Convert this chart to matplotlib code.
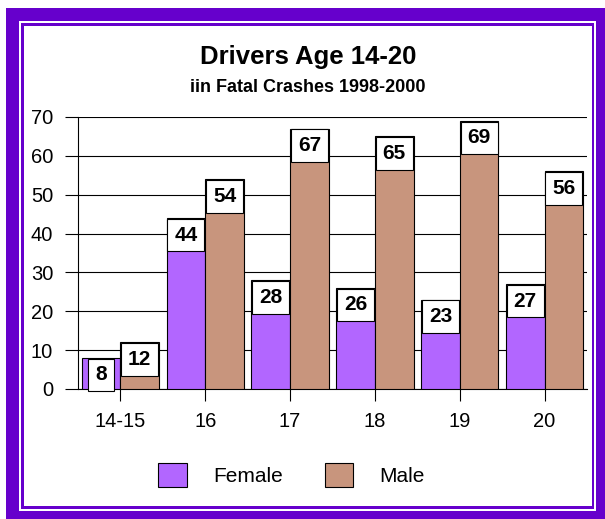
import numpy as np
import matplotlib
matplotlib.use("Agg")
import matplotlib.pyplot as plt
from matplotlib.patches import Rectangle

ages = ["14-15", "16", "17", "18", "19", "20"]
female = [8, 44, 28, 26, 23, 27]
male = [12, 54, 67, 65, 69, 56]

W, H = 605, 519
plt.rcParams['font.family'] = ['Liberation Sans', 'DejaVu Sans']

fig = plt.figure(figsize=(W / 100, H / 100), dpi=100)


def px_rect(x0, y0, x1, y1, color):
    # rectangle given in image pixels (y down)
    r = Rectangle((x0 / W, 1 - y1 / H), (x1 - x0) / W, (y1 - y0) / H,
                  transform=fig.transFigure, facecolor=color,
                  edgecolor='none', zorder=0)
    fig.add_artist(r)


purple = "#6600CC"
px_rect(6, 8, 605, 519, purple)
px_rect(19, 21, 596, 511, "white")
px_rect(21, 23, 594, 509, purple)
px_rect(24, 26, 592, 506, "white")

ax = fig.add_axes([78 / W, 1 - 389 / H, (587 - 78) / W, (389 - 117) / H])
ax.patch.set_alpha(0)

x = np.arange(len(ages))
bw = 0.455
b1 = ax.bar(x - bw / 2, female, bw, color="#B266FF", edgecolor="black",
            linewidth=0.8, label="Female", zorder=3)
b2 = ax.bar(x + bw / 2, male, bw, color="#C8957D", edgecolor="black",
            linewidth=0.8, label="Male", zorder=3)

for bars, vals in ((b1, female), (b2, male)):
    for b, v in zip(bars, vals):
        ax.annotate(str(v), (b.get_x() + b.get_width() / 2, v),
                    xytext=(0, -17), textcoords="offset pixels",
                    ha="center", va="center", fontsize=15, fontweight="bold",
                    zorder=5, annotation_clip=False,
                    bbox=dict(boxstyle="square,pad=0.33", facecolor="white",
                              edgecolor="black", linewidth=0.8))

ax.set_xlim(-0.5, len(ages) - 0.5)
ax.set_ylim(0, 70)
ax.set_yticks(range(0, 71, 10))
ax.set_xticks(x)
ax.set_xticklabels(ages)
ax.yaxis.grid(True, color="black", linewidth=0.8)
ax.set_axisbelow(True)
for s in ("top", "right"):
    ax.spines[s].set_visible(False)
ax.spines["left"].set_linewidth(0.8)
ax.spines["bottom"].set_linewidth(0.8)
ax.tick_params(axis="y", length=9.4, width=0.8, pad=8.5, labelsize=14.5)
ax.tick_params(axis="x", length=8.6, width=0.8, pad=8, labelsize=14.5)

fig.text(308 / W, 1 - 57 / H, "Drivers Age 14-20", ha="center", va="center",
         fontsize=18.5, fontweight="bold")
fig.text(308 / W, 1 - 88 / H, "iin Fatal Crashes 1998-2000", ha="center",
         va="center", fontsize=13, fontweight="bold")

ax.legend(loc="center", bbox_to_anchor=(291.5 / W, 1 - 475 / H),
          bbox_transform=fig.transFigure, ncol=2, frameon=False, fontsize=15,
          handlelength=1.39, handleheight=1.39, handletextpad=1.25,
          columnspacing=2.0)

fig.savefig("out.png", dpi=100)
